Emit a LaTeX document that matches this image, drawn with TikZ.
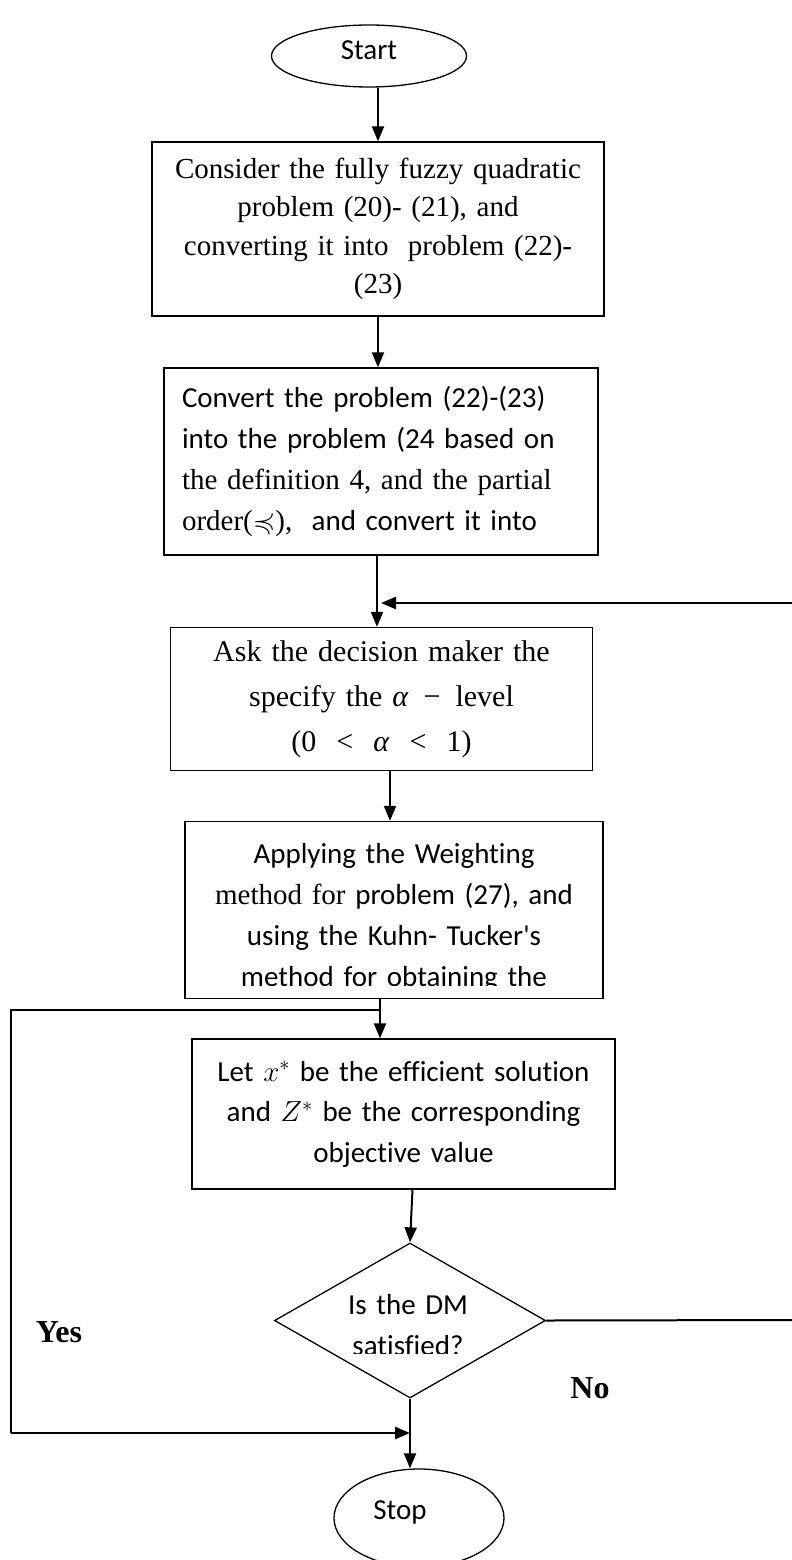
\documentclass[tikz,border=0pt]{standalone}
\usepackage{fix-cm}
\usepackage{amsmath}
\usepackage{amssymb}
\usepackage{fontspec}
\setmainfont{Liberation Serif}
\newfontfamily\carlito[Ligatures=NoCommon]{Carlito}
\usetikzlibrary{shapes.geometric, arrows.meta, positioning}
\tikzstyle{terminal} = [draw, ellipse, line width=1.3pt, inner sep=0pt, font=\carlito\fontsize{29}{35}\selectfont]
\tikzstyle{proceso} = [draw, rectangle, line width=1.3pt, inner sep=0pt, align=center]
\tikzstyle{decision} = [draw, diamond, line width=1.3pt, inner sep=0pt]
\tikzstyle{flecha} = [line width=2pt, -{Triangle[length=15pt,width=12pt]}]
\tikzstyle{linea} = [line width=2pt]
\tikzstyle{etiqueta} = [inner sep=0pt, font=\bfseries\fontsize{32}{32}\selectfont]

\begin{document}
\begin{tikzpicture}[x=1pt, y=-1pt]
	\useasboundingbox (0,0) rectangle (792,1560);
	\node[terminal, minimum width=195pt, minimum height=62pt, text depth=12pt] (inicio) at (369,56) {Start};
	\node[proceso, minimum width=452pt, minimum height=174pt, text width=440pt, font=\fontsize{29}{38.5}\selectfont] (considerar) at (378,229) {Consider the fully fuzzy quadratic\\ problem (20)- (21), and\\ converting it into\ \ problem (22)-\\ (23)};
	\node[proceso, minimum width=434pt, minimum height=187pt, text width=398pt, align=left, font=\fontsize{29}{41}\selectfont] (convertir) at (381,461.5) {\carlito Convert the problem (22)-(23)\\ into the problem (24 based on\\ \rmfamily the definition 4, and the partial\\ order($\preccurlyeq$), \carlito\ and convert it into};
	\node[proceso, minimum width=422pt, minimum height=143pt, text width=420pt, font=\fontsize{30}{45}\selectfont] (pedir) at (381.5,699) {Ask the decision maker the\\ specify the \textit{α}\, −\, level\\ (0\,\, <\,\, \textit{α}\,\, <\,\, 1)};
	\node[proceso, minimum width=418pt, minimum height=177pt] (ponderar) at (394,910) {};
	\begin{scope}
		\clip (ponderar.north west) rectangle ([yshift=14pt]ponderar.south east);
		\node[text width=418pt, align=center, inner sep=0pt, font=\carlito\fontsize{29}{41}\selectfont] (ponderartxt) at (394,917) {Applying the Weighting\\ {\rmfamily method for} problem (27), and\\ using the Kuhn- Tucker's\\ method for obtaining the};
	\end{scope}
	\node[proceso, minimum width=423pt, minimum height=150pt, text width=420pt, font=\carlito\fontsize{29}{40.5}\selectfont] (eficiente) at (403.5,1114) {Let $x^*$ be the efficient solution\\ and $Z^*$ be the corresponding\\ objective value};
	\node[decision, minimum width=271pt, minimum height=155pt] (decide) at (410,1320.5) {};
	\begin{scope}
		\clip (decide.west |- decide.north) rectangle ([yshift=45pt]decide.east |- decide.south);
		\node[text width=200pt, align=center, inner sep=0pt, font=\carlito\fontsize{29}{41}\selectfont] (decidetxt) at (408,1325) {Is the DM\\ satisfied?};
	\end{scope}
	\node[terminal, minimum width=170pt, minimum height=98pt, text depth=15pt] (fin) at (419,1518) {Stop\kern38pt};
	\node[etiqueta] (si) at (59,1332) {Yes};
	\node[etiqueta] (no) at (590,1388) {No};

	\coordinate (retorno) at (792,603);
	\coordinate (salida) at (792,1320);
	\coordinate (bifurca) at (380,1010);
	\coordinate (izqarriba) at (11,1010);
	\coordinate (izqabajo) at (11,1433);

	\draw[flecha] (considerar.north |- inicio.south) -- (considerar.north);
	\draw[flecha] (considerar.south) -- (considerar.south |- convertir.north);
	\draw[flecha] ([xshift=-4pt]convertir.south) -- ([xshift=-4pt]convertir.south |- pedir.north);
	\draw[flecha, line width=2.6pt] (retorno) -- (retorno -| convertir.south);
	\draw[flecha] ([xshift=-4pt]ponderar.north |- pedir.south) -- ([xshift=-4pt]ponderar.north);
	\draw[flecha] (bifurca |- ponderar.south) -- (bifurca |- eficiente.north);
	\draw[flecha] ([xshift=9pt]eficiente.south) -- (decide.north);
	\draw[flecha] (decide.south) -- (decide.south |- fin.north);
	\draw[linea] (decide.east) -- (salida);
	\draw[linea] (bifurca) -- (izqarriba) -- (izqabajo);
	\draw[flecha, line width=2.6pt] (izqabajo) -- (izqabajo -| decide.south);
\end{tikzpicture}
\end{document}
